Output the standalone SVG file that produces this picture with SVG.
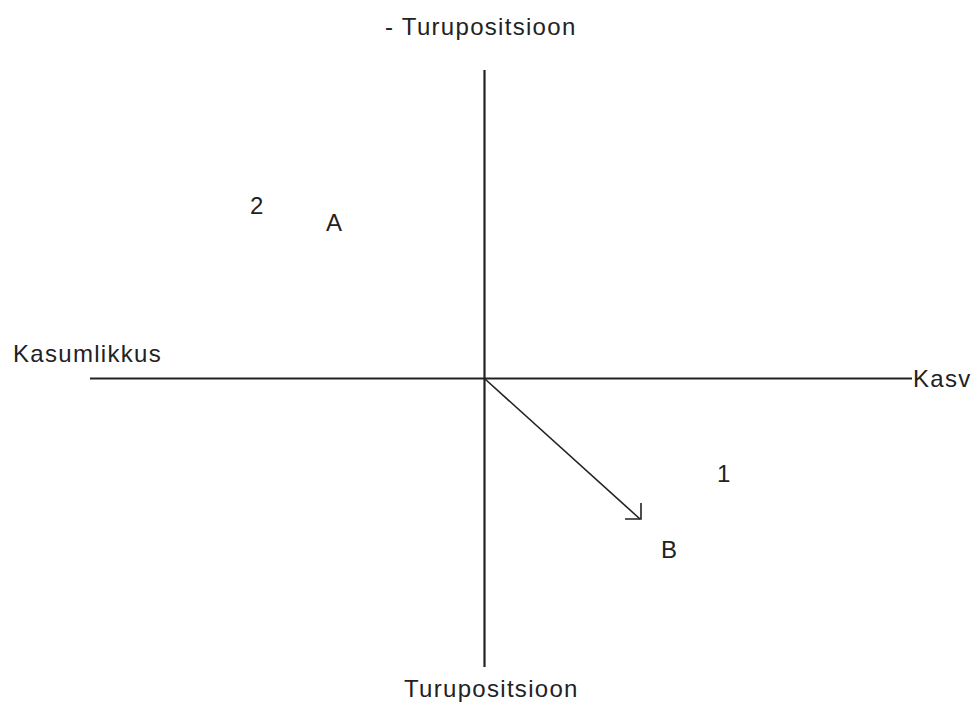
<svg xmlns="http://www.w3.org/2000/svg" width="976" height="702" viewBox="0 0 976 702">
<style>
text{font-family:"Liberation Sans",Arial,sans-serif;font-size:24px;letter-spacing:1.3px;fill:#222}
.ax{stroke:#222;stroke-width:2.2;fill:none}
.ar{stroke:#222;stroke-width:1.6;fill:none}
</style>
<rect width="976" height="702" fill="#fff"/>
<g id="connectors">
<line class="ax" x1="90" y1="378.5" x2="912" y2="378.5"/>
<line class="ax" x1="484.5" y1="70" x2="484.5" y2="667"/>
<line class="ar" x1="485" y1="379" x2="640" y2="519"/>
<polyline class="ar" points="625,519 641,519 641,503"/>
</g>
<g id="labels">
<text x="385" y="35">- Turupositsioon</text>
<text x="404" y="697">Turupositsioon</text>
<text x="13" y="362">Kasumlikkus</text>
<text x="913" y="387">Kasv</text>
<text x="250" y="214">2</text>
<text x="326" y="231">A</text>
<text x="717" y="482">1</text>
<text x="661" y="558">B</text>
</g>
</svg>
